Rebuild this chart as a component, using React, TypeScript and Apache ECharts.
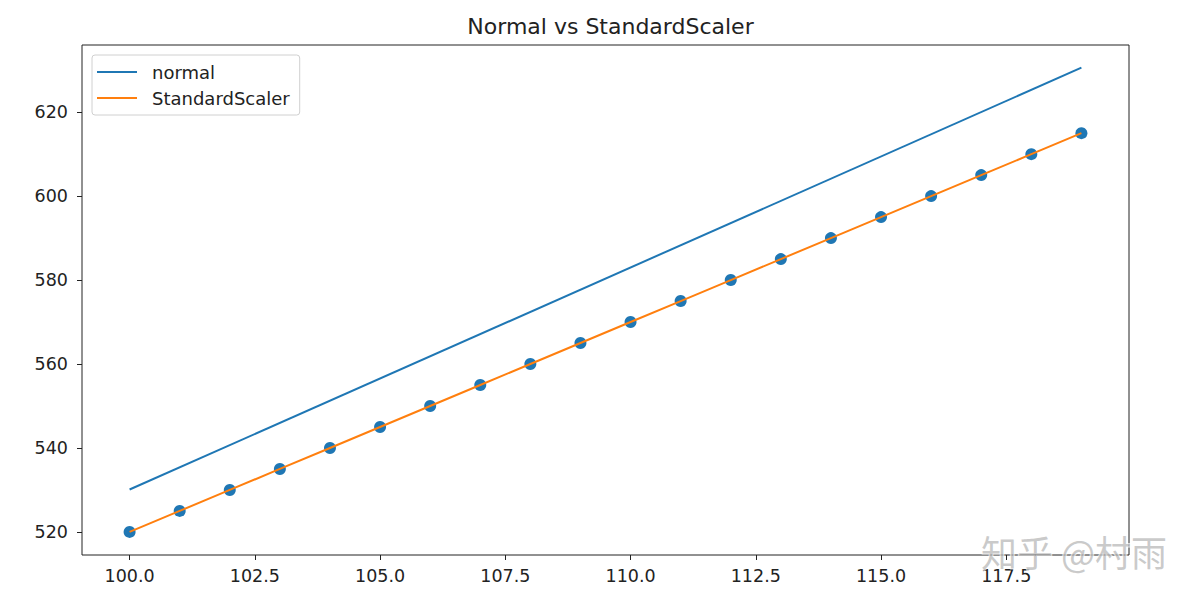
import React, { useEffect, useRef } from "react";
import * as echarts from "echarts";

const xValues = [100, 101, 102, 103, 104, 105, 106, 107, 108, 109, 110, 111, 112, 113, 114, 115, 116, 117, 118, 119];
const scaledValues = [520, 525, 530, 535, 540, 545, 550, 555, 560, 565, 570, 575, 580, 585, 590, 595, 600, 605, 610, 615];
const normalX = [100, 119];
const normalY = [530.1, 630.6];
const xTicks = [100, 102.5, 105, 107.5, 110, 112.5, 115, 117.5];
const yTicks = [520, 540, 560, 580, 600, 620];

export default function App() {
  const ref = useRef<HTMLDivElement>(null);
  useEffect(() => {
    if (!ref.current) return;
    const chart = echarts.init(ref.current, null, { renderer: "svg" });
    const font = "DejaVu Sans";
    chart.setOption({
      animation: false,
      backgroundColor: "#fff",
      textStyle: { fontFamily: font },
      title: {
        text: "Normal vs StandardScaler",
        left: 605.5,
        textAlign: "center",
        top: 10,
        textStyle: { fontFamily: font, fontSize: 22, fontWeight: "normal", color: "#222" },
      },
      grid: {
        left: 82,
        top: 45,
        right: 70,
        bottom: 48,
        show: true,
        borderColor: "#222",
        borderWidth: 1,
        backgroundColor: "transparent",
      },
      legend: {
        orient: "vertical",
        left: 92,
        top: 55,
        padding: [8, 10, 8, 5],
        itemGap: 8,
        itemWidth: 40,
        itemHeight: 2,
        borderColor: "#d0d0d0",
        borderWidth: 1,
        borderRadius: 3,
        backgroundColor: "rgba(255,255,255,0.8)",
        textStyle: { fontFamily: font, fontSize: 18, color: "#222", padding: [0, 0, 0, 10] },
        data: [
          { name: "normal", icon: "rect" },
          { name: "StandardScaler", icon: "rect" },
        ],
      },
      xAxis: {
        type: "value",
        min: 99.05,
        max: 119.95,
        splitLine: { show: false },
        axisLine: { show: false },
        axisTick: { show: true, length: 5, lineStyle: { color: "#222" }, customValues: xTicks },
        axisLabel: {
          fontFamily: font,
          fontSize: 17.5,
          color: "#222",
          margin: 12,
          customValues: xTicks,
          formatter: (v: number) => v.toFixed(1),
        },
      },
      yAxis: {
        type: "value",
        min: 514.5,
        max: 636,
        splitLine: { show: false },
        axisLine: { show: false },
        axisTick: { show: true, length: 5, lineStyle: { color: "#222" }, customValues: yTicks },
        axisLabel: {
          fontFamily: font,
          fontSize: 17.5,
          color: "#222",
          margin: 14,
          customValues: yTicks,
        },
      },
      series: [
        {
          name: "normal",
          type: "line",
          data: normalX.map((x, i) => [x, normalY[i]]),
          showSymbol: false,
          symbol: "none",
          lineStyle: { color: "#1f77b4", width: 2 },
          itemStyle: { color: "#1f77b4" },
          z: 2,
        },
        {
          name: "points",
          type: "scatter",
          data: xValues.map((x, i) => [x, scaledValues[i]]),
          symbolSize: 12,
          itemStyle: { color: "#1f77b4", opacity: 1 },
          z: 3,
        },
        {
          name: "StandardScaler",
          type: "line",
          data: xValues.map((x, i) => [x, scaledValues[i]]),
          showSymbol: false,
          symbol: "none",
          lineStyle: { color: "#ff7f0e", width: 2 },
          itemStyle: { color: "#ff7f0e" },
          z: 4,
        },
      ],
      graphic: [
        {
          type: "text",
          left: 980,
          top: 532,
          z: 100,
          style: {
            text: "知乎 @村雨",
            font: "36px 'Noto Sans CJK SC'",
            fill: "rgba(150,150,150,0.5)",
            stroke: "rgba(255,255,255,0.7)",
            lineWidth: 2,
          },
        },
      ],
    });
    return () => chart.dispose();
  }, []);
  return (
    <div
      ref={ref}
      style={{ position: "fixed", left: 0, top: 0, width: 1199, height: 603 }}
    />
  );
}
